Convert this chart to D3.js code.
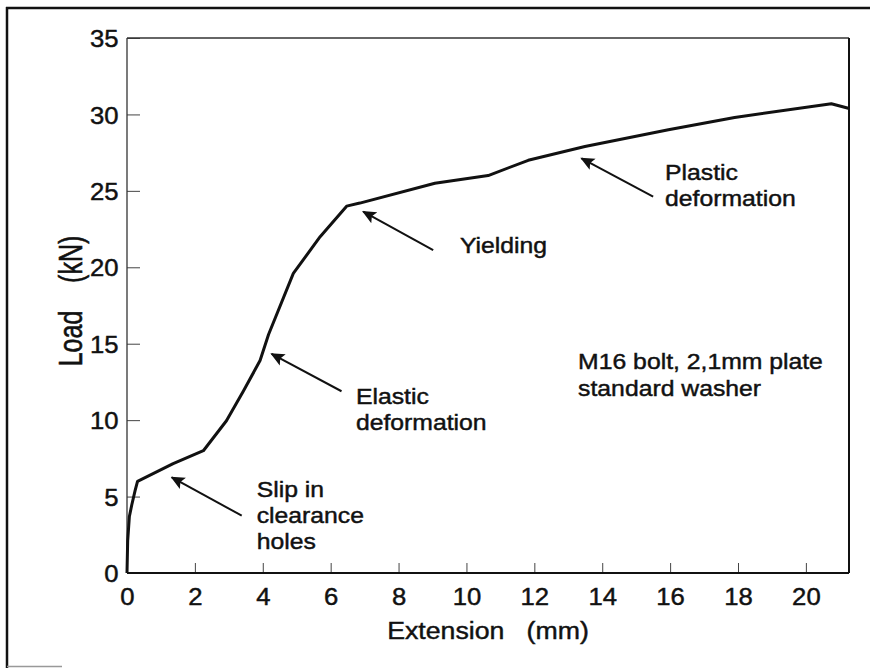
<!DOCTYPE html>
<html>
<head>
<meta charset="utf-8">
<script src="https://cdn.jsdelivr.net/npm/d3@7"></script>
<style>
  body { margin: 0; background: #fff; }
  svg { display: block; }
  text { font-family: "Liberation Sans", Arial, Helvetica, sans-serif; fill: #111; stroke: #111; stroke-width: 0.45px; white-space: pre; }
</style>
</head>
<body>
<div id="chart"></div>
<script>
// Load-extension curve
const extension = [0, 0.02, 0.07, 0.14, 0.24, 0.31, 1.36, 2.25, 2.93, 3.43, 3.92, 4.17, 4.9, 5.69, 6.47, 6.86, 9.07, 10.64, 11.82, 13.49, 15.95, 17.9, 20.75, 21.25];
const load = [0, 2.1, 3.7, 4.45, 5.4, 6.0, 7.15, 8.0, 9.96, 11.9, 13.9, 15.6, 19.6, 22.0, 24.0, 24.2, 25.5, 26.0, 27.0, 27.9, 29.0, 29.8, 30.7, 30.4];

const xTicks = [0, 2, 4, 6, 8, 10, 12, 14, 16, 18, 20];
const yTicks = [0, 5, 10, 15, 20, 25, 30, 35];

// annotation texts, text anchor, arrow tail and tip (data units)
const noteLines = [["Slip in", "clearance", "holes"], ["Elastic", "deformation"], ["Yielding"], ["Plastic", "deformation"]];
const noteAt = [[3.82, 4.95], [6.745, 11.06], [9.81, 20.92], [15.85, 25.71]];
const arrowTail = [[3.38, 3.75], [6.32, 11.89], [9.02, 21.13], [15.5, 24.62]];
const arrowTip = [[1.32, 6.26], [4.26, 14.33], [6.96, 23.64], [13.39, 27.13]];
const infoLines = ["M16 bolt, 2,1mm plate", "standard washer"];
const infoAt = [13.29, 13.35];

const W = 870, H = 668;
const margin = { top: 38, right: 21, bottom: 95, left: 127 };
const width = W - margin.left - margin.right;
const height = H - margin.top - margin.bottom;

const root = d3.select("#chart").append("svg")
  .attr("width", W)
  .attr("height", H);

// outer frame (left and top edges, as in the scan)
root.append("line").attr("x1", 7).attr("y1", 7).attr("x2", 7).attr("y2", H)
  .attr("stroke", "#111").attr("stroke-width", 2.5);
root.append("line").attr("x1", 6).attr("y1", 8).attr("x2", W).attr("y2", 8)
  .attr("stroke", "#111").attr("stroke-width", 2.5);
root.append("line").attr("x1", 7).attr("y1", 666.5).attr("x2", 62).attr("y2", 666.5)
  .attr("stroke", "#999").attr("stroke-width", 1.5);

const svg = root.append("g")
  .attr("transform", "translate(" + margin.left + "," + margin.top + ")");

const x = d3.scaleLinear().domain([0, 21.27]).range([0, width]);
const y = d3.scaleLinear().domain([0, 35]).range([height, 0]);

// stretched text helper
function stext(g, px, py, str, size, sx, anchor) {
  return g.append("text")
    .attr("transform", "translate(" + px + "," + py + ") scale(" + sx + ",1)")
    .attr("text-anchor", anchor || "start")
    .style("font-size", size + "px")
    .text(str);
}

// axes
const xAxis = svg.append("g")
  .attr("transform", "translate(0," + height + ")")
  .call(d3.axisBottom(x).tickValues(xTicks).tickSizeInner(-10).tickSizeOuter(0).tickPadding(15));
const yAxis = svg.append("g")
  .call(d3.axisLeft(y).tickValues(yTicks).tickSizeInner(-13).tickSizeOuter(0).tickPadding(9));

[xAxis, yAxis].forEach(function (a) {
  a.select(".domain").remove();
  a.selectAll(".tick line").attr("stroke", "#444").attr("stroke-width", 1);
  a.selectAll(".tick text")
    .attr("fill", "#111")
    .style("font-family", "'Liberation Sans', Arial, sans-serif")
    .style("font-size", "24px");
});
xAxis.selectAll(".tick text").attr("transform", "scale(1.07,1)");
yAxis.selectAll(".tick text").attr("transform", "scale(1.07,1)").attr("x", -8).attr("dy", "0.36em");

// plot box
svg.append("line").attr("x1", 0).attr("y1", 0).attr("x2", 0).attr("y2", height)
  .attr("stroke", "#333").attr("stroke-width", 1.3);
svg.append("line").attr("x1", 0).attr("y1", 0).attr("x2", width).attr("y2", 0)
  .attr("stroke", "#333").attr("stroke-width", 1.3);
svg.append("line").attr("x1", width).attr("y1", 0).attr("x2", width).attr("y2", height)
  .attr("stroke", "#111").attr("stroke-width", 2);
svg.append("line").attr("x1", 0).attr("y1", height).attr("x2", width).attr("y2", height)
  .attr("stroke", "#111").attr("stroke-width", 2);

// axis titles
stext(svg, width / 2, height + 66, "Extension   (mm)", 24.5, 1.09, "middle");
svg.append("text")
  .attr("transform", "translate(-45," + (301 - margin.top) + ") rotate(-90) scale(1,1.3)")
  .attr("text-anchor", "middle")
  .style("font-size", "25px")
  .text("Load    (kN)");

// curve
const pts = extension.map(function (e, i) { return [e, load[i]]; });
svg.append("path")
  .datum(pts)
  .attr("fill", "none")
  .attr("stroke", "#111")
  .attr("stroke-width", 3)
  .attr("stroke-linejoin", "round")
  .attr("d", d3.line().x(function (d) { return x(d[0]); }).y(function (d) { return y(d[1]); }));

// arrows
root.append("defs").append("marker")
  .attr("id", "head")
  .attr("viewBox", "0 0 10 10")
  .attr("refX", 9).attr("refY", 5)
  .attr("markerWidth", 7).attr("markerHeight", 7)
  .attr("markerUnits", "strokeWidth")
  .attr("orient", "auto")
  .append("path").attr("d", "M0,0.5 L10,5 L0,9.5 L2,5 Z").attr("fill", "#111");

svg.selectAll(".arrow")
  .data(arrowTail)
  .enter()
  .append("line")
  .attr("class", "arrow")
  .attr("x1", function (d) { return x(d[0]); })
  .attr("y1", function (d) { return y(d[1]); })
  .attr("x2", function (d, i) { return x(arrowTip[i][0]); })
  .attr("y2", function (d, i) { return y(arrowTip[i][1]); })
  .attr("stroke", "#111")
  .attr("stroke-width", 2)
  .attr("marker-end", "url(#head)");

// annotation labels
noteLines.forEach(function (lines, i) {
  lines.forEach(function (t, j) {
    stext(svg, x(noteAt[i][0]), y(noteAt[i][1]) + j * 25.7, t, 22.5, 1.1);
  });
});
infoLines.forEach(function (t, j) {
  stext(svg, x(infoAt[0]), y(infoAt[1]) + j * 26.7, t, 22.5, 1.1);
});
</script>
</body>
</html>
